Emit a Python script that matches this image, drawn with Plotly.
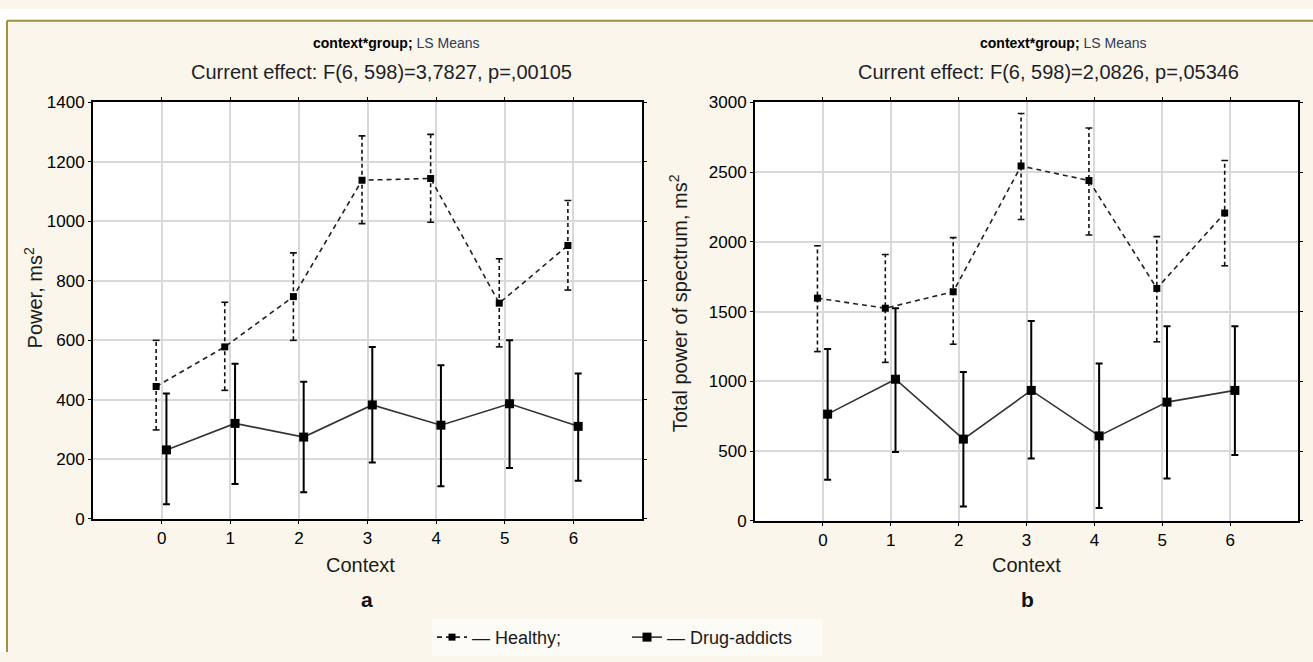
import plotly.graph_objects as go

# ---------------- data ----------------
context = [0, 1, 2, 3, 4, 5, 6]
tick_labels = ["0", "1", "2", "3", "4", "5", "6"]

# Panel a: Power, ms^2
a_healthy_mean = [445, 578, 747, 1138, 1144, 725, 919]
a_healthy_upper = [600, 728, 894, 1287, 1292, 874, 1070]
a_healthy_lower = [299, 432, 600, 992, 997, 578, 769]
a_drug_mean = [232, 321, 275, 383, 315, 387, 311]
a_drug_upper = [421, 521, 461, 578, 516, 600, 489]
a_drug_lower = [49, 117, 90, 190, 110, 171, 128]

# Panel b: Total power of spectrum, ms^2
b_healthy_mean = [1596, 1524, 1642, 2543, 2439, 1666, 2206]
b_healthy_upper = [1972, 1909, 2030, 2919, 2815, 2037, 2582]
b_healthy_lower = [1213, 1136, 1266, 2160, 2049, 1283, 1828]
b_drug_mean = [765, 1015, 586, 935, 609, 851, 935]
b_drug_upper = [1231, 1524, 1067, 1433, 1127, 1394, 1394]
b_drug_lower = [294, 493, 103, 447, 92, 303, 472]

title_top = "<b>context*group;</b> <span style='color:#2e3a56'>LS Means</span>"
title_a = "Current effect: F(6, 598)=3,7827, p=,00105"
title_b = "Current effect: F(6, 598)=2,0826, p=,05346"
ytitle_a = "Power, ms<sup>2</sup>"
ytitle_b = "Total power of spectrum, ms<sup>2</sup>"
xtitle = "Context"
name_healthy = "— Healthy;"
name_drug = "— Drug-addicts"

# ---------------- style ----------------
W, H = 1313, 662
FONT = "Liberation Sans, Arial, sans-serif"
OFF_H, OFF_D = -0.08, 0.07
CAP = 0.05


def px(xp):
    return xp / W


def py(yp):
    return 1 - yp / H


fig = go.Figure()


def add_panel(xa, ya, h_mean, h_up, h_lo, d_mean, d_up, d_lo, show):
    xh = [c + OFF_H for c in context]
    xd = [c + OFF_D for c in context]
    sx, sy, cx, cy = [], [], [], []
    for x, lo, up in zip(xh, h_lo, h_up):
        sx += [x, x, None]
        sy += [lo, up, None]
        cx += [x - CAP, x + CAP, None, x - CAP, x + CAP, None]
        cy += [up, up, None, lo, lo, None]
    fig.add_trace(go.Scatter(x=sx, y=sy, mode="lines", xaxis=xa, yaxis=ya,
                             line=dict(color="#111", width=1.6, dash="4px,3px"),
                             showlegend=False, hoverinfo="skip"))
    fig.add_trace(go.Scatter(x=cx, y=cy, mode="lines", xaxis=xa, yaxis=ya,
                             line=dict(color="#111", width=1.6),
                             showlegend=False, hoverinfo="skip"))
    fig.add_trace(go.Scatter(x=xh, y=h_mean, mode="lines+markers", xaxis=xa, yaxis=ya,
                             name=name_healthy, showlegend=show,
                             line=dict(color="#222", width=1.6, dash="5px,4px"),
                             marker=dict(symbol="square", size=7, color="#000")))
    fig.add_trace(go.Scatter(x=xd, y=d_mean, mode="lines+markers", xaxis=xa, yaxis=ya,
                             name=name_drug, showlegend=show,
                             line=dict(color="#333", width=1.6),
                             marker=dict(symbol="square", size=9, color="#000"),
                             error_y=dict(type="data", symmetric=False,
                                          array=[u - m for u, m in zip(d_up, d_mean)],
                                          arrayminus=[m - l for m, l in zip(d_mean, d_lo)],
                                          color="#000", thickness=2, width=3.5)))


add_panel("x", "y", a_healthy_mean, a_healthy_upper, a_healthy_lower,
          a_drug_mean, a_drug_upper, a_drug_lower, True)
add_panel("x2", "y2", b_healthy_mean, b_healthy_upper, b_healthy_lower,
          b_drug_mean, b_drug_upper, b_drug_lower, False)

axis_common = dict(
    showgrid=True, gridcolor="#d9d9d9", gridwidth=1.5,
    showline=True, linecolor="#000", linewidth=2, mirror="ticks",
    ticks="outside", ticklen=3, tickcolor="#000", tickwidth=1,
    zeroline=False, tickfont=dict(family=FONT, size=17, color="#000"),
)

fig.update_layout(
    width=W, height=H,
    margin=dict(l=0, r=0, t=0, b=0),
    paper_bgcolor="#faf6eb",
    plot_bgcolor="#ffffff",
    font=dict(family=FONT, color="#111"),
    xaxis=dict(domain=[px(93), px(642)], range=[-1, 7], tickvals=context,
               ticktext=tick_labels, anchor="y", **axis_common),
    yaxis=dict(domain=[py(525), py(96)], range=[0, 1400], dtick=200, anchor="x",
               **axis_common),
    xaxis2=dict(domain=[px(755), px(1298)], range=[-1, 7], tickvals=context,
                ticktext=tick_labels, anchor="y2", **axis_common),
    yaxis2=dict(domain=[py(527), py(96)], range=[0, 3000], dtick=500, anchor="x2",
                **axis_common),
    showlegend=True,
    legend=dict(orientation="h", x=px(432), xanchor="left", y=py(647), yanchor="middle",
                bgcolor="#fdfbf6", font=dict(family=FONT, size=18, color="#1a1a1a"),
                entrywidth=150, entrywidthmode="pixels", itemwidth=30,
                traceorder="normal"),
)

# white margins outside the framed panel, and the olive border
fig.add_shape(type="rect", xref="paper", yref="paper", x0=0, x1=1, y0=py(12), y1=1,
              fillcolor="#ffffff", line=dict(width=0), layer="below")
fig.add_shape(type="rect", xref="paper", yref="paper", x0=0, x1=px(7), y0=0, y1=1,
              fillcolor="#ffffff", line=dict(width=0), layer="below")
fig.add_shape(type="line", xref="paper", yref="paper", x0=px(7), x1=1, y0=py(12), y1=py(12),
              line=dict(color="#a0923f", width=2))
fig.add_shape(type="line", xref="paper", yref="paper", x0=px(7), x1=px(7), y0=0, y1=py(12),
              line=dict(color="#a0923f", width=2))

ann = []
for cx_top, cx_eff, eff in [(397, 381, title_a), (1063, 1048, title_b)]:
    ann.append(dict(text=title_top, x=px(cx_top), y=py(35), font=dict(size=14, color="#000")))
    ann.append(dict(text=eff, x=px(cx_eff), y=py(65), font=dict(size=20, color="#1e1e28")))
ann.append(dict(text=ytitle_a, x=px(33), y=py(298), textangle=-90, font=dict(size=20, color="#1a1a1a")))
ann.append(dict(text=ytitle_b, x=px(678), y=py(303), textangle=-90, font=dict(size=20, color="#1a1a1a")))
ann.append(dict(text=xtitle, x=px(360), y=py(572), font=dict(size=20, color="#1a1a1a")))
ann.append(dict(text=xtitle, x=px(1026), y=py(572), font=dict(size=20, color="#1a1a1a")))
ann.append(dict(text="<b>a</b>", x=px(367), y=py(608), font=dict(size=21, color="#111")))
ann.append(dict(text="<b>b</b>", x=px(1027), y=py(608), font=dict(size=21, color="#111")))
for a in ann:
    a.update(xref="paper", yref="paper", showarrow=False, xanchor="center", yanchor="middle")
    a["font"]["family"] = FONT
fig.update_layout(annotations=ann)

fig.write_html("out.html", config={"displayModeBar": False},
               post_script="document.body.style.margin='0';document.body.style.overflow='hidden';")
